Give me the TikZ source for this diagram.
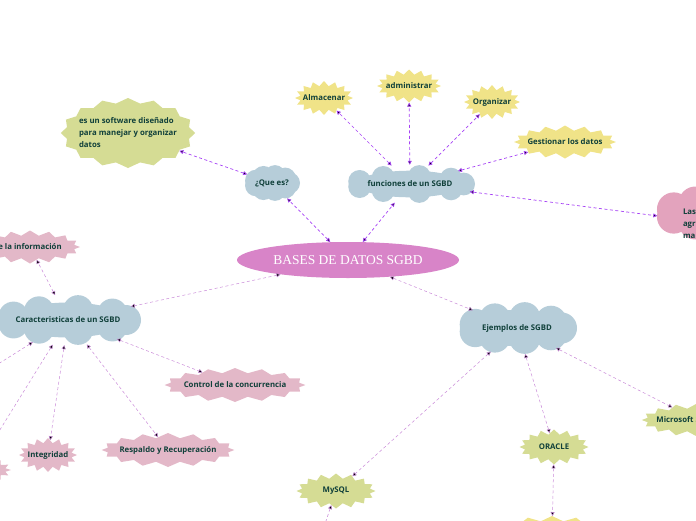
\documentclass[tikz,border=0pt]{standalone}
\usepackage{fontspec}
\setmainfont{Open Sans}
\newfontfamily\titlefont{Liberation Serif}
\usepackage{tikz}
\usetikzlibrary{shapes,shapes.symbols,shapes.geometric,arrows.meta}
\definecolor{nubeazul}{HTML}{B6CDD9}
\definecolor{verde}{HTML}{D5DC94}
\definecolor{amarillo}{HTML}{F0E388}
\definecolor{rosa}{HTML}{E3B8C8}
\definecolor{rosafuerte}{HTML}{E3A3BD}
\definecolor{orquidea}{HTML}{D884C8}
\definecolor{texto}{HTML}{10403A}
\definecolor{lineaf}{HTML}{A642F5}
\definecolor{lineas}{HTML}{C98AD8}
% forma de nube: centro x, centro y, semiancho, semialto, color
\newcommand{\nubeforma}[5]{%
	\fill[#5] (#1,#2) ellipse [x radius={#3pt-0.6*#4pt}, y radius={0.7*#4pt}];
	\foreach \ang in {0,40,...,320}
		\fill[#5] ({#1+(#3-0.6*#4)*cos(\ang)},{#2+0.4*#4*sin(\ang)}) circle [radius={0.6*#4pt}];
}

\begin{document}
\begin{tikzpicture}[x=1pt,y=-1pt]
\tikzstyle{raiz}=[ellipse, fill=orquidea, text=white, font=\titlefont\fontsize{13.5}{15}\selectfont, minimum width=222pt, minimum height=36pt, inner sep=0pt]
\tikzstyle{nube}=[ellipse, text=texto, font=\bfseries\fontsize{7.8}{12}\selectfont, inner sep=0pt]
\tikzstyle{idea}=[starburst, starburst points=16, starburst point height=5pt, random starburst=0, text=texto, font=\bfseries\fontsize{7.8}{12}\selectfont, inner xsep=-5pt, inner ysep=1pt]
\tikzstyle{ideag}=[idea, fill=verde]
\tikzstyle{ideay}=[idea, fill=amarillo]
\tikzstyle{ideap}=[idea, fill=rosa]
\tikzstyle{fuerte}=[{Triangle[length=4pt,width=4pt]}-{Triangle[length=4pt,width=4pt]}, dash pattern=on 3pt off 2.5pt, line width=0.7pt, draw=lineaf]
\tikzstyle{suave}=[fuerte, line width=0.5pt, draw=lineas]

\useasboundingbox (0,0) rectangle (696,520);

	% nubes
	\nubeforma{272}{183}{28}{18}{nubeazul}
	\nubeforma{410}{184}{65}{19}{nubeazul}
	\nubeforma{720}{213}{66}{28}{rosafuerte}
	\nubeforma{68}{320}{73}{25}{nubeazul}
	\nubeforma{517}{328}{60}{26}{nubeazul}

	% centro
	\node[raiz] (sgbd) at (348,260) {BASES DE DATOS SGBD};

	% que es
	\node[nube] (quees) at (272,183) [minimum width=56pt, minimum height=36pt]{¿Que es?};
	\node[ideag] (def) at (128,133) [minimum width=128pt, minimum height=70pt, align=left]{es un software diseñado\\para manejar y organizar\\datos};

	% funciones
	\node[nube] (func) at (410,184) [minimum width=130pt, minimum height=38pt]{funciones de un SGBD};
	\node[ideay] (alm) at (324,98) [minimum width=58pt, minimum height=34pt]{Almacenar};
	\node[ideay] (adm) at (409,86) [minimum width=64pt, minimum height=33pt]{administrar};
	\node[ideay] (org) at (492,102) [minimum width=56pt, minimum height=34pt]{Organizar};
	\node[ideay] (ges) at (565,142) [minimum width=98pt, minimum height=33pt]{Gestionar los datos};
	\node[nube] (vent) at (720,224) [minimum width=132pt, minimum height=50pt, text width=74pt, align=left]{Las\\agr\\ma};

	% caracteristicas
	\node[nube] (carac) at (68,320) [minimum width=146pt, minimum height=50pt]{Caracteristicas de un SGBD};
	\node[ideap] (info) at (30,247) [minimum width=100pt, minimum height=33pt]{e la información};
	\node[ideap] (conc) at (235,385) [minimum width=131pt, minimum height=34pt]{Control de la concurrencia};
	\node[ideap] (resp) at (168,450) [minimum width=125pt, minimum height=34pt]{Respaldo y Recuperación};
	\node[ideap] (integ) at (48,455) [minimum width=58pt, minimum height=34pt]{Integridad};
	\node[ideap] (otra) at (-25,470) [minimum width=72pt, minimum height=28pt]{};
	\coordinate (otra2) at (-40,388);

	% ejemplos
	\node[nube] (ejem) at (517,328) [minimum width=120pt, minimum height=52pt]{Ejemplos de SGBD};
	\node[ideag] (mysql) at (336,491) [minimum width=79pt, minimum height=35pt]{MySQL};
	\node[ideag] (oracle) at (554,447) [minimum width=69pt, minimum height=35pt]{ORACLE};
	\node[ideag] (msql) at (697,420) [minimum width=110pt, minimum height=33pt]{Microsoft SQL Server};
	\node[ideay] (oracle2) at (552,538) [minimum width=126pt, minimum height=44pt]{};
	\coordinate (mysql2) at (318,545);

	\path[fuerte]
		(sgbd) edge [] (quees)
		(sgbd) edge [] (func)
		(quees) edge [] (def)
		(func) edge [] (alm)
		(func) edge [] (adm)
		(func) edge [] (org)
		(func) edge [] (ges)
		(func) edge [] (vent);

	\path[suave]
		(sgbd) edge [] (carac)
		(sgbd) edge [] (ejem)
		(carac) edge [] (info)
		(carac) edge [] (conc)
		(carac) edge [] (resp)
		(carac) edge [] (integ)
		(carac) edge [] (otra)
		(carac) edge [] (otra2);

	\path[suave]
		(ejem) edge [] (mysql)
		(ejem) edge [] (oracle)
		(ejem) edge [] (msql)
		(oracle) edge [] (oracle2)
		(mysql) edge [] (mysql2);

\end{tikzpicture}
\end{document}
